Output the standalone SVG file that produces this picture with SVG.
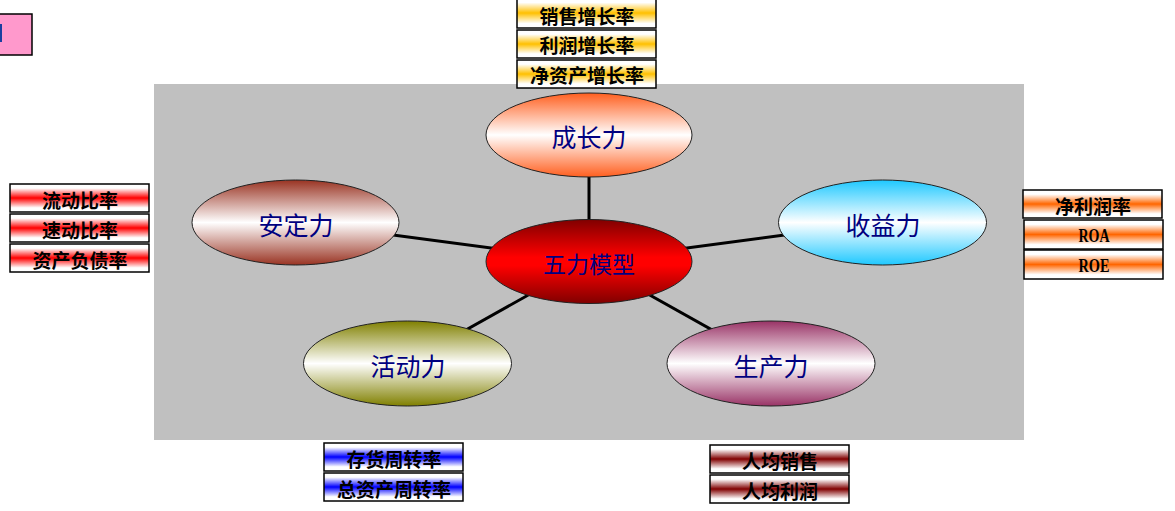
<svg xmlns="http://www.w3.org/2000/svg" width="1175" height="511" viewBox="0 0 1175 511">
<defs>
<linearGradient id="gGold" x1="0" y1="0" x2="0" y2="1"><stop offset="0" stop-color="#ffffff"/><stop offset="0.15" stop-color="#ffffff"/><stop offset="0.5" stop-color="#ffc000"/><stop offset="0.85" stop-color="#ffffff"/><stop offset="1" stop-color="#ffffff"/></linearGradient>
<linearGradient id="gRed" x1="0" y1="0" x2="0" y2="1"><stop offset="0" stop-color="#ffffff"/><stop offset="0.15" stop-color="#ffffff"/><stop offset="0.5" stop-color="#ff0000"/><stop offset="0.85" stop-color="#ffffff"/><stop offset="1" stop-color="#ffffff"/></linearGradient>
<linearGradient id="gOrange" x1="0" y1="0" x2="0" y2="1"><stop offset="0" stop-color="#ffffff"/><stop offset="0.15" stop-color="#ffffff"/><stop offset="0.5" stop-color="#ff6600"/><stop offset="0.85" stop-color="#ffffff"/><stop offset="1" stop-color="#ffffff"/></linearGradient>
<linearGradient id="gBlue" x1="0" y1="0" x2="0" y2="1"><stop offset="0" stop-color="#ffffff"/><stop offset="0.15" stop-color="#ffffff"/><stop offset="0.5" stop-color="#0000ff"/><stop offset="0.85" stop-color="#ffffff"/><stop offset="1" stop-color="#ffffff"/></linearGradient>
<linearGradient id="gMaroon" x1="0" y1="0" x2="0" y2="1"><stop offset="0" stop-color="#ffffff"/><stop offset="0.15" stop-color="#ffffff"/><stop offset="0.5" stop-color="#800000"/><stop offset="0.85" stop-color="#ffffff"/><stop offset="1" stop-color="#ffffff"/></linearGradient>
<linearGradient id="eGrowth" x1="0" y1="0" x2="0" y2="1"><stop offset="0" stop-color="#ff5f1f"/><stop offset="0.5" stop-color="#ffffff"/><stop offset="1" stop-color="#ff5f1f"/></linearGradient>
<linearGradient id="eCenter" x1="0" y1="0" x2="0" y2="1"><stop offset="0" stop-color="#800000"/><stop offset="0.45" stop-color="#ff0000"/><stop offset="0.55" stop-color="#ff0000"/><stop offset="1" stop-color="#800000"/></linearGradient>
<linearGradient id="eStable" x1="0" y1="0" x2="0" y2="1"><stop offset="0" stop-color="#993322"/><stop offset="0.5" stop-color="#ffffff"/><stop offset="1" stop-color="#993322"/></linearGradient>
<linearGradient id="eProfit" x1="0" y1="0" x2="0" y2="1"><stop offset="0" stop-color="#1ec8ff"/><stop offset="0.5" stop-color="#ffffff"/><stop offset="1" stop-color="#1ec8ff"/></linearGradient>
<linearGradient id="eActive" x1="0" y1="0" x2="0" y2="1"><stop offset="0" stop-color="#808000"/><stop offset="0.5" stop-color="#ffffff"/><stop offset="1" stop-color="#808000"/></linearGradient>
<linearGradient id="eProd" x1="0" y1="0" x2="0" y2="1"><stop offset="0" stop-color="#993366"/><stop offset="0.5" stop-color="#ffffff"/><stop offset="1" stop-color="#993366"/></linearGradient>
</defs>
<style>
.ell{stroke:#222;stroke-width:1}
.etxt{font-family:"Noto Sans CJK SC","Liberation Serif",sans-serif;font-size:25px;fill:#000080;text-anchor:middle;dominant-baseline:central}
.box{stroke:#000;stroke-width:1.5}
.btxt{font-family:"Noto Sans CJK SC","Liberation Serif",sans-serif;font-size:19px;font-weight:bold;fill:#000;text-anchor:middle;dominant-baseline:central}
.ltxt{font-family:"Liberation Serif",serif;font-size:18px;font-weight:bold;fill:#000;text-anchor:middle;dominant-baseline:central}
.conn{stroke:#000;stroke-width:3;fill:none}
</style>
<rect width="1175" height="511" fill="#ffffff"/>
<rect id="panel" x="154" y="84" width="870" height="356" fill="#c0c0c0"/>
<g id="pinkbox">
<rect x="-40" y="14" width="72" height="41" fill="#ff99cc" stroke="#000" stroke-width="1.5"/>
<rect x="0" y="24" width="2" height="18" fill="#1a3fa0"/>
</g>
<g id="connectors">
<line class="conn" x1="589" y1="261" x2="589" y2="135"/>
<line class="conn" x1="589" y1="261" x2="295" y2="222"/>
<line class="conn" x1="589" y1="261" x2="882" y2="222"/>
<line class="conn" x1="589" y1="261" x2="407" y2="363"/>
<line class="conn" x1="589" y1="261" x2="771" y2="363"/>
</g>
<g id="growth"><ellipse class="ell" cx="589" cy="135" rx="103" ry="42" fill="url(#eGrowth)"/><text class="etxt" x="589" y="136">成长力</text></g>
<g id="center"><ellipse class="ell" cx="589" cy="261.5" rx="103" ry="42" fill="url(#eCenter)"/><text class="etxt" x="589" y="263" style="font-size:23px">五力模型</text></g>
<g id="stability"><ellipse class="ell" cx="295.5" cy="222.5" rx="103.5" ry="42.5" fill="url(#eStable)"/><text class="etxt" x="296" y="224">安定力</text></g>
<g id="profit"><ellipse class="ell" cx="882.5" cy="222.5" rx="104" ry="42.5" fill="url(#eProfit)"/><text class="etxt" x="883" y="224">收益力</text></g>
<g id="activity"><ellipse class="ell" cx="407.5" cy="363.5" rx="104" ry="42.5" fill="url(#eActive)"/><text class="etxt" x="408" y="365">活动力</text></g>
<g id="productivity"><ellipse class="ell" cx="771" cy="363.5" rx="104" ry="42.5" fill="url(#eProd)"/><text class="etxt" x="771" y="365">生产力</text></g>
<g id="growth-items">
<rect class="box" x="517" y="-2" width="139" height="30" fill="url(#gGold)"/><text class="btxt" x="587" y="15">销售增长率</text>
<rect class="box" x="517" y="30" width="139" height="28" fill="url(#gGold)"/><text class="btxt" x="587" y="44">利润增长率</text>
<rect class="box" x="517" y="60" width="139" height="28" fill="url(#gGold)"/><text class="btxt" x="587" y="74">净资产增长率</text>
</g>
<g id="stability-items">
<rect class="box" x="10" y="184" width="139" height="28" fill="url(#gRed)"/><text class="btxt" x="80" y="199">流动比率</text>
<rect class="box" x="10" y="214" width="139" height="28" fill="url(#gRed)"/><text class="btxt" x="80" y="229">速动比率</text>
<rect class="box" x="10" y="244" width="139" height="28" fill="url(#gRed)"/><text class="btxt" x="80" y="259">资产负债率</text>
</g>
<g id="profit-items">
<rect class="box" x="1023" y="190" width="139" height="28" fill="url(#gOrange)"/><text class="btxt" x="1093" y="205">净利润率</text>
<rect class="box" x="1024" y="220" width="139" height="29" fill="url(#gOrange)"/><text class="ltxt" x="1094" y="236" textLength="31" lengthAdjust="spacingAndGlyphs">ROA</text>
<rect class="box" x="1024" y="250" width="139" height="29" fill="url(#gOrange)"/><text class="ltxt" x="1094" y="266" textLength="31" lengthAdjust="spacingAndGlyphs">ROE</text>
</g>
<g id="activity-items">
<rect class="box" x="324" y="443" width="139" height="28" fill="url(#gBlue)"/><text class="btxt" x="394" y="458">存货周转率</text>
<rect class="box" x="324" y="473" width="139" height="28" fill="url(#gBlue)"/><text class="btxt" x="394" y="488">总资产周转率</text>
</g>
<g id="productivity-items">
<rect class="box" x="710" y="445" width="139" height="28" fill="url(#gMaroon)"/><text class="btxt" x="780" y="460">人均销售</text>
<rect class="box" x="710" y="475" width="139" height="28" fill="url(#gMaroon)"/><text class="btxt" x="780" y="490">人均利润</text>
</g>
</svg>
